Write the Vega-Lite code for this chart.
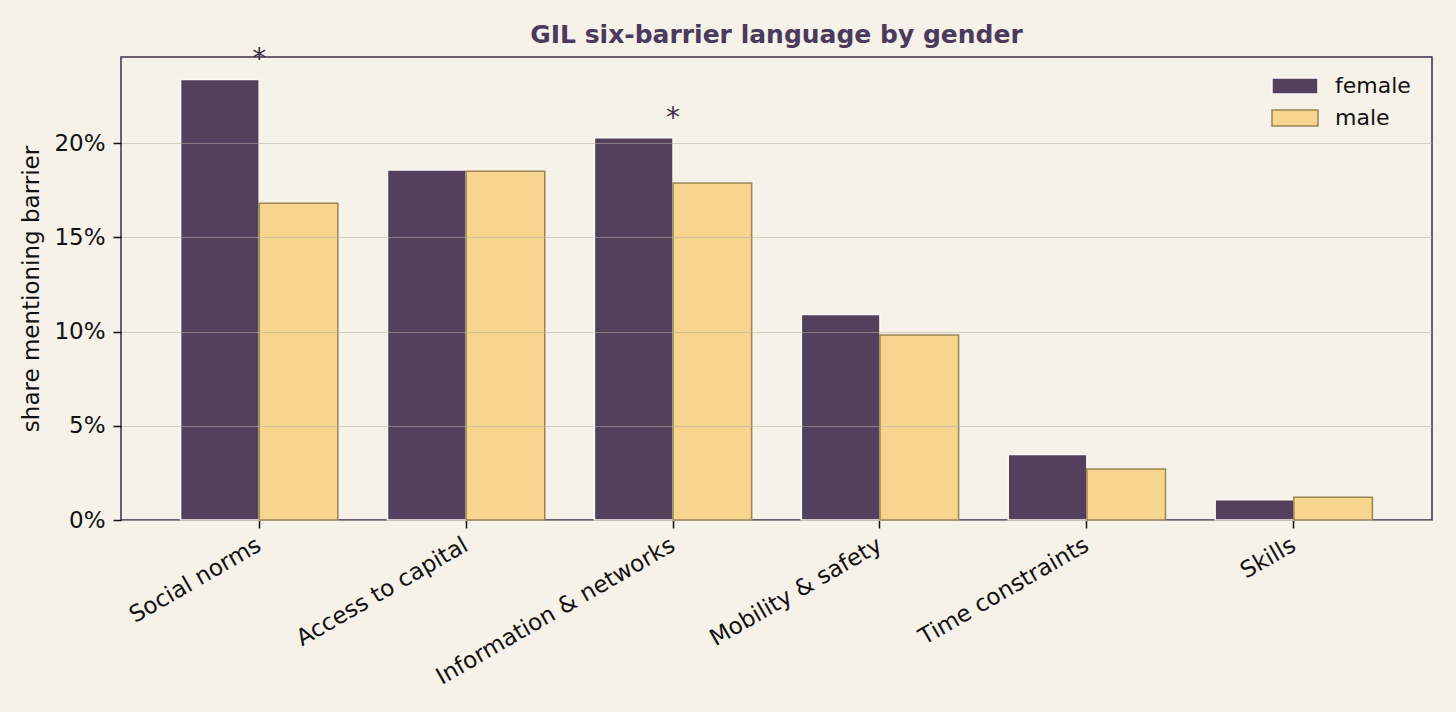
{
  "$schema": "https://vega.github.io/schema/vega-lite/v6.json",
  "autosize": {"type": "none"},
  "padding": {"left": 121, "top": 57, "right": 24, "bottom": 192},
  "width": 1311,
  "height": 463,
  "background": "#f6f2ea",
  "title": {
    "text": "GIL six-barrier language by gender",
    "font": "DejaVu Sans",
    "fontSize": 25,
    "fontWeight": "bold",
    "color": "#4b3a5c",
    "anchor": "middle",
    "offset": -2
  },
  "config": {
    "font": "DejaVu Sans",
    "view": {"stroke": "#3f2d4a", "strokeWidth": 1.5},
    "axis": {
      "labelFont": "DejaVu Sans",
      "labelFontSize": 23,
      "labelColor": "#111111",
      "labelLimit": 0,
      "titleFont": "DejaVu Sans",
      "titleFontSize": 23,
      "titleFontWeight": "normal",
      "titleColor": "#111111",
      "tickColor": "#111111",
      "tickSize": 8,
      "tickWidth": 1.5,
      "domainColor": "#3f2d4a",
      "domainWidth": 1.5
    }
  },
  "data": {
    "values": [
      {"barrier": "Social norms", "gender": "female", "share": 0.2338, "sig": "*"},
      {"barrier": "Social norms", "gender": "male", "share": 0.1681, "sig": ""},
      {"barrier": "Access to capital", "gender": "female", "share": 0.1858, "sig": ""},
      {"barrier": "Access to capital", "gender": "male", "share": 0.1851, "sig": ""},
      {"barrier": "Information & networks", "gender": "female", "share": 0.2028, "sig": "*"},
      {"barrier": "Information & networks", "gender": "male", "share": 0.1789, "sig": ""},
      {"barrier": "Mobility & safety", "gender": "female", "share": 0.1090, "sig": ""},
      {"barrier": "Mobility & safety", "gender": "male", "share": 0.0982, "sig": ""},
      {"barrier": "Time constraints", "gender": "female", "share": 0.0348, "sig": ""},
      {"barrier": "Time constraints", "gender": "male", "share": 0.0270, "sig": ""},
      {"barrier": "Skills", "gender": "female", "share": 0.0107, "sig": ""},
      {"barrier": "Skills", "gender": "male", "share": 0.0121, "sig": ""}
    ]
  },
  "encoding": {
    "x": {
      "field": "barrier",
      "type": "nominal",
      "sort": null,
      "title": null,
      "scale": {"paddingInner": 0.24, "paddingOuter": 0.288},
      "axis": {
        "labelAngle": -30,
        "labelAlign": "right",
        "labelBaseline": "middle",
        "labelPadding": 15,
        "labelDx": -22,
        "domain": false
      }
    },
    "y": {
      "field": "share",
      "type": "quantitative",
      "title": "share mentioning barrier",
      "scale": {"domain": [0, 0.2457], "nice": false, "zero": true},
      "axis": {
        "values": [0, 0.05, 0.1, 0.15, 0.2],
        "format": ".0%",
        "grid": true,
        "gridColor": "#b8b0a6",
        "gridOpacity": 0.55,
        "gridWidth": 1.2,
        "zindex": 1,
        "labelPadding": 8,
        "titlePadding": 10,
        "domain": false
      }
    }
  },
  "layer": [
    {
      "mark": {"type": "bar", "strokeWidth": 1.5},
      "encoding": {
        "xOffset": {
          "field": "gender",
          "type": "nominal",
          "sort": ["female", "male"],
          "scale": {"paddingInner": 0, "paddingOuter": 0}
        },
        "fill": {
          "field": "gender",
          "type": "nominal",
          "sort": ["female", "male"],
          "scale": {"domain": ["female", "male"], "range": ["#543f5c", "#f8d58e"]},
          "legend": {
            "title": null,
            "orient": "none",
            "legendX": 1150,
            "legendY": 12,
            "symbolType": "M-1,-0.5H1.875V0.5H-1Z",
            "symbolSize": 1024,
            "symbolStrokeWidth": 1.5,
            "labelFont": "DejaVu Sans",
            "labelFontSize": 22,
            "labelColor": "#111111",
            "labelOffset": 30,
            "rowPadding": 4,
            "fillColor": null,
            "strokeColor": null
          }
        },
        "stroke": {
          "field": "gender",
          "type": "nominal",
          "sort": ["female", "male"],
          "scale": {"domain": ["female", "male"], "range": ["#fbf8f2", "#9a8452"]},
          "legend": null
        }
      }
    },
    {
      "transform": [{"filter": "datum.sig == '*'"}],
      "mark": {
        "type": "text",
        "font": "DejaVu Sans",
        "fontSize": 28,
        "color": "#3f2d4a",
        "baseline": "alphabetic",
        "align": "center",
        "dy": -11
      },
      "encoding": {
        "text": {"field": "sig"}
      }
    }
  ]
}
